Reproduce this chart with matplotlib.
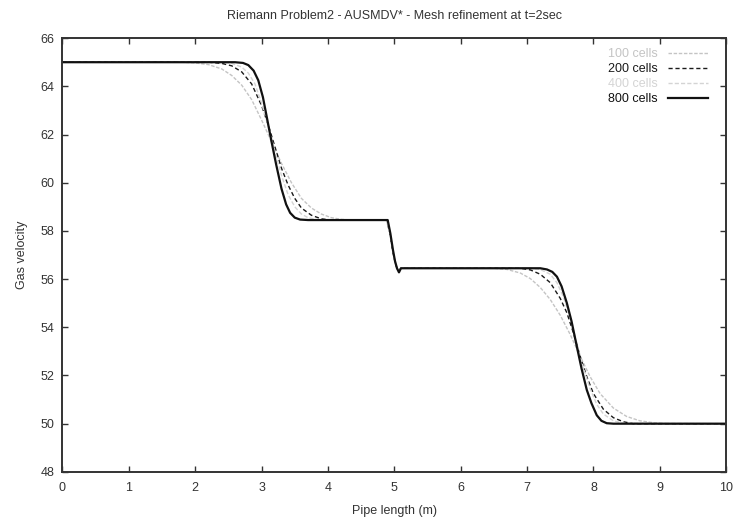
import matplotlib
matplotlib.use('Agg')
import matplotlib.pyplot as plt

plt.rcParams['font.family'] = ['Liberation Sans', 'DejaVu Sans']

# ── Gas velocity profiles at t = 2 s (x in m, u in m/s) ──────────────
x_100 = [0.0, 1.8, 2.0, 2.2, 2.4, 2.55, 2.7, 2.85, 3.0, 3.15, 3.3, 3.45, 3.6,
         3.75, 3.9, 4.05, 4.2, 4.35, 4.88, 4.93, 4.98, 5.02, 5.06, 5.1,
         6.5, 6.7, 6.9, 7.05, 7.2, 7.35, 7.5, 7.65, 7.8, 7.95, 8.1, 8.3,
         8.5, 8.7, 8.9, 9.1, 10.0]
u_100 = [65.0, 65.0, 64.97, 64.9, 64.72, 64.45, 64.05, 63.45, 62.6, 61.7,
         60.8, 60.0, 59.35, 58.95, 58.7, 58.55, 58.48, 58.45, 58.45, 58.0,
         57.1, 56.6, 56.35, 56.45, 56.45, 56.4, 56.25, 56.02, 55.65, 55.15,
         54.5, 53.7, 52.8, 51.95, 51.25, 50.65, 50.3, 50.12, 50.04, 50.0, 50.0]

x_200 = [0.0, 2.2, 2.4, 2.55, 2.7, 2.85, 3.0, 3.1, 3.2, 3.3, 3.4, 3.5, 3.6,
         3.75, 3.9, 4.05, 4.88, 4.93, 4.98, 5.02, 5.06, 5.1,
         6.9, 7.05, 7.2, 7.35, 7.5, 7.6, 7.7, 7.8, 7.9, 8.0, 8.15, 8.3,
         8.45, 8.6, 10.0]
u_200 = [65.0, 65.0, 64.95, 64.85, 64.6, 64.1, 63.2, 62.4, 61.5, 60.6,
         59.9, 59.35, 58.95, 58.65, 58.5, 58.45, 58.45, 57.95, 57.1, 56.6,
         56.32, 56.45, 56.45, 56.38, 56.2, 55.85, 55.2, 54.6, 53.75, 52.8,
         51.95, 51.25, 50.6, 50.25, 50.08, 50.0, 50.0]

x_400 = [0.0, 2.4, 2.55, 2.7, 2.8, 2.9, 3.0, 3.1, 3.2, 3.3, 3.4, 3.5, 3.6,
         3.7, 3.85, 4.88, 4.93, 4.98, 5.02, 5.06, 5.1,
         7.05, 7.2, 7.35, 7.45, 7.55, 7.65, 7.75, 7.85, 7.95, 8.05, 8.15,
         8.3, 8.45, 10.0]
u_400 = [65.0, 65.0, 64.95, 64.8, 64.55, 64.1, 63.3, 62.35, 61.3, 60.3,
         59.5, 59.0, 58.7, 58.55, 58.46, 58.45, 57.95, 57.1, 56.6, 56.3,
         56.45, 56.45, 56.4, 56.2, 55.85, 55.25, 54.4, 53.35, 52.3, 51.45,
         50.8, 50.4, 50.12, 50.02, 50.0]

x_800 = [0.0, 2.6, 2.72, 2.8, 2.88, 2.95, 3.02, 3.08, 3.15, 3.22, 3.3,
         3.37, 3.43, 3.5, 3.58, 3.7, 4.9, 4.94, 4.98, 5.01, 5.04, 5.07, 5.1,
         7.2, 7.3, 7.38, 7.45, 7.52, 7.6, 7.67, 7.75, 7.82, 7.9, 7.97,
         8.05, 8.12, 8.2, 8.3, 10.0]
u_800 = [65.0, 65.0, 64.97, 64.88, 64.65, 64.25, 63.55, 62.7, 61.7, 60.75,
         59.75, 59.1, 58.75, 58.55, 58.47, 58.45, 58.45, 57.9, 57.2, 56.75,
         56.45, 56.28, 56.45, 56.45, 56.4, 56.3, 56.1, 55.7, 55.0, 54.25,
         53.2, 52.3, 51.4, 50.85, 50.35, 50.12, 50.02, 50.0, 50.0]

series = [
    ('100 cells', x_100, u_100, dict(color='#c4c4c4', lw=1.0, dashes=(2.5, 1.2))),
    ('200 cells', x_200, u_200, dict(color='#1a1a1a', lw=1.0, dashes=(3, 2))),
    ('400 cells', x_400, u_400, dict(color='#d4d4d4', lw=1.0, dashes=(3, 1.5))),
    ('800 cells', x_800, u_800, dict(color='#111111', lw=1.6)),
]

x_ticks = list(range(0, 11))
y_ticks = list(range(48, 67, 2))

FS = 9

fig = plt.figure(figsize=(7.35, 5.22), dpi=100)
ax = fig.add_axes([0.085, 0.096, 0.903, 0.831])

for label, xs, us, style in series:
    ax.plot(xs, us, label=label, **style)

ax.set_xlim(0, 10)
ax.set_ylim(48, 66)
ax.set_xticks(x_ticks)
ax.set_yticks(y_ticks)
ax.tick_params(direction='in', top=True, right=True, length=4,
               width=1.0, labelsize=FS, colors='#333333')
ax.tick_params(axis='x', pad=7)
ax.tick_params(axis='y', pad=6)
for sp in ax.spines.values():
    sp.set_linewidth(1.4)
    sp.set_color('#333333')

ax.set_xlabel('Pipe length (m)', fontsize=FS, color='#333333', labelpad=8)
ax.set_ylabel('Gas velocity', fontsize=FS, color='#333333', labelpad=9)
ax.set_title('Riemann Problem2 - AUSMDV* - Mesh refinement at t=2sec',
             fontsize=FS, color='#333333', pad=14)

# key sits in the top-right corner, labels right-aligned before the sample
leg = ax.legend(loc='upper right', bbox_to_anchor=(0.987, 1.0),
                frameon=False, markerfirst=False,
                fontsize=FS, handlelength=3.2, labelspacing=0.25,
                borderaxespad=0.4, handletextpad=0.8, labelcolor='linecolor')

fig.savefig('out.png', dpi=100)
